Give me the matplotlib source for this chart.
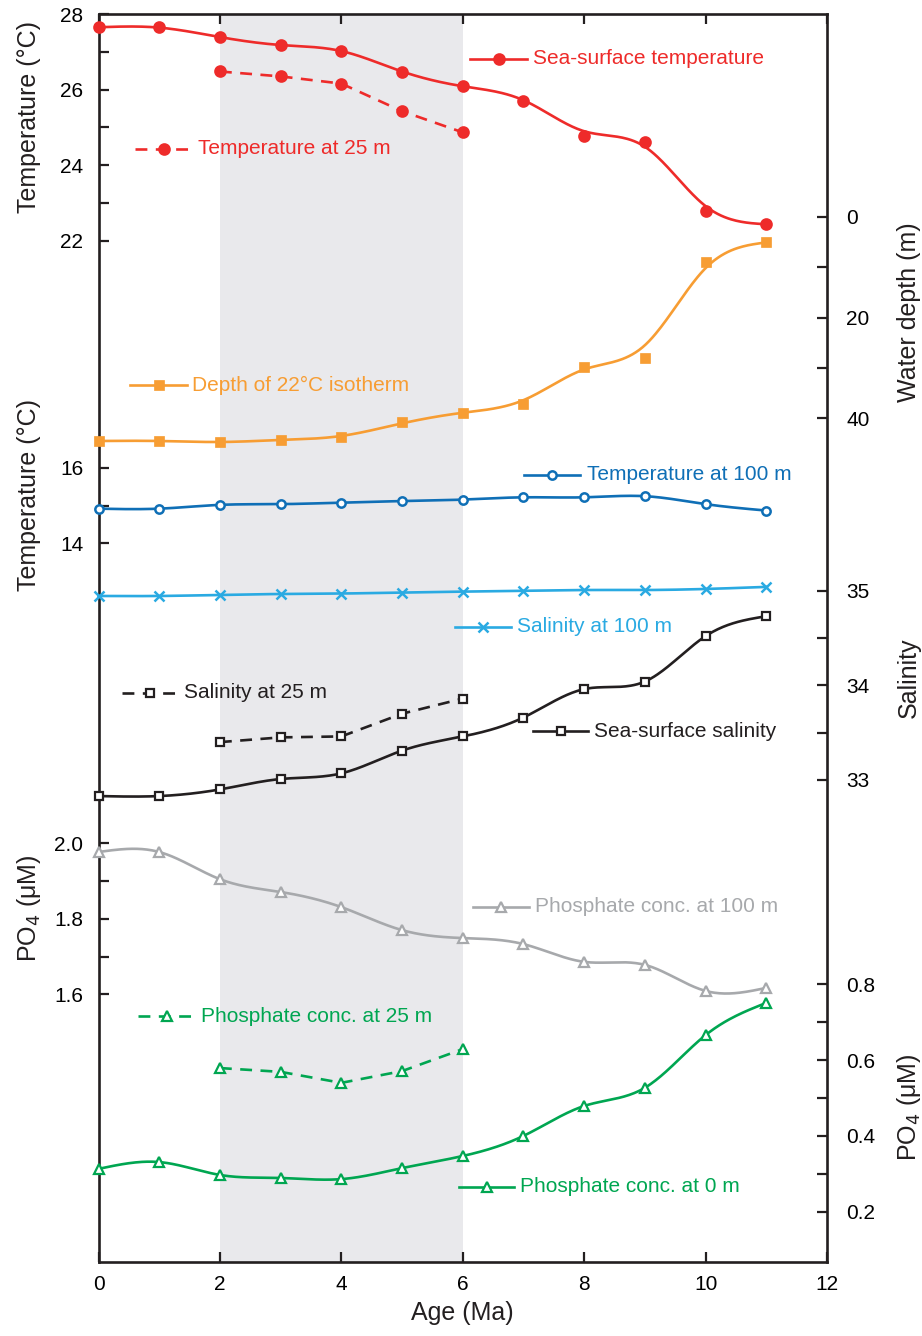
import numpy as np
import matplotlib
matplotlib.use("Agg")
import matplotlib.pyplot as plt
from matplotlib.lines import Line2D
from matplotlib.ticker import FixedLocator

plt.rcParams['font.family'] = ['Liberation Sans', 'DejaVu Sans']

# ---------------- data ----------------
ages = [0, 1, 2, 3, 4, 5, 6, 7, 8, 9, 10, 11]
ages_short = [2, 3, 4, 5, 6]

# Temperature (deg C)
sst = [27.65, 27.65, 27.39, 27.19, 27.03, 26.47, 26.09, 25.69, 24.78, 24.62, 22.78, 22.44]
sst_fit = [27.65, 27.64, 27.39, 27.18, 27.02, 26.48, 26.09, 25.72, 24.90, 24.49, 22.92, 22.44]
temp25 = [26.48, 26.35, 26.16, 25.43, 24.87]
temp100 = [14.92, 14.92, 15.02, 15.04, 15.08, 15.12, 15.16, 15.22, 15.22, 15.25, 15.04, 14.87]

# Water depth (m) of the 22 deg C isotherm
iso22 = [44.5, 44.5, 44.8, 44.3, 43.65, 40.8, 38.95, 37.1, 29.8, 28.0, 9.05, 5.1]
iso22_fit = [44.5, 44.5, 44.7, 44.3, 43.5, 41.0, 38.9, 36.4, 30.3, 25.5, 10.2, 5.1]

# Salinity
sal100 = [34.944, 34.944, 34.955, 34.965, 34.97, 34.98, 34.99, 34.997, 35.007, 35.007, 35.018, 35.04]
sss = [32.83, 32.83, 32.90, 33.01, 33.07, 33.31, 33.46, 33.66, 33.96, 34.04, 34.52, 34.73]
sal25 = [33.40, 33.45, 33.46, 33.70, 33.86]

# Phosphate (uM)
po4_100 = [1.977, 1.977, 1.905, 1.871, 1.831, 1.770, 1.749, 1.733, 1.686, 1.678, 1.609, 1.617]
po4_25 = [0.579, 0.569, 0.540, 0.571, 0.629]
po4_0 = [0.313, 0.331, 0.297, 0.289, 0.286, 0.315, 0.347, 0.400, 0.479, 0.527, 0.666, 0.751]

shade_span = [2, 6]
x_ticks = [0, 2, 4, 6, 8, 10, 12]

# ---------------- style ----------------
RED = '#ee2b2a'
ORANGE = '#f79d33'
BLUE = '#0f6fb6'
LBLUE = '#2aaae2'
BLACK = '#231f20'
GRAY = '#a7a9ac'
GREEN = '#00a651'
SHADE = '#e9e9ec'


def smooth(x, y, n=400):
    """Natural cubic spline through the given knots (for drawing a smooth line)."""
    x = np.asarray(x, float)
    y = np.asarray(y, float)
    m = len(x)
    h = np.diff(x)
    A = np.zeros((m, m))
    b = np.zeros(m)
    A[0, 0] = A[-1, -1] = 1
    for i in range(1, m - 1):
        A[i, i - 1] = h[i - 1]
        A[i, i] = 2 * (h[i - 1] + h[i])
        A[i, i + 1] = h[i]
        b[i] = 3 * ((y[i + 1] - y[i]) / h[i] - (y[i] - y[i - 1]) / h[i - 1])
    c = np.linalg.solve(A, b)
    bc = (y[1:] - y[:-1]) / h - h * (2 * c[:-1] + c[1:]) / 3
    d = (c[1:] - c[:-1]) / (3 * h)
    xs = np.linspace(x[0], x[-1], n)
    idx = np.clip(np.searchsorted(x, xs, side='right') - 1, 0, m - 2)
    dx = xs - x[idx]
    ys = y[idx] + bc[idx] * dx + c[idx] * dx ** 2 + d[idx] * dx ** 3
    return xs, ys


W, H = 922, 1336
fig = plt.figure(figsize=(W / 100, H / 100), dpi=100)
L, R, T, B = 98.5, 827, 14, 1262
ax = fig.add_axes([L / W, 1 - B / H, (R - L) / W, (B - T) / H])

ax_pl = ax.twinx()    # PO4 left
ax_dep = ax.twinx()   # water depth right
ax_sal = ax.twinx()   # salinity right
ax_pr = ax.twinx()    # PO4 right

TICKW = 1.6
TICKL = 7.5
TLS = 15

ax.set_xlim(0, 12)
ax.set_ylim(-5, 28)
ax_pl.set_ylim(0.8909, 4.1968)
ax_dep.set_ylim(207.4, -40.22)
ax_sal.set_ylim(27.907, 41.093)
ax_pr.set_ylim(0.0673, 3.3602)

ax.axvspan(shade_span[0], shade_span[1], color=SHADE, zorder=0, lw=0)

for s in ax.spines.values():
    s.set_linewidth(1.9)
    s.set_color(BLACK)
for a in (ax_pl, ax_dep, ax_sal, ax_pr):
    for s in a.spines.values():
        s.set_visible(False)

ax.xaxis.set_major_locator(FixedLocator(x_ticks))
ax.tick_params(axis='x', which='both', direction='in', top=True, bottom=True,
               length=TICKL, width=TICKW, color=BLACK, labelsize=TLS, pad=9)

ax.yaxis.set_major_locator(FixedLocator([14, 16, 22, 24, 26, 28]))
ax.yaxis.set_minor_locator(FixedLocator([15, 23, 25, 27]))
ax.tick_params(axis='y', which='both', direction='in', left=True, right=False,
               length=TICKL, width=TICKW, color=BLACK, labelsize=TLS, pad=11)

ax_pl.yaxis.set_ticks_position('left')
ax_pl.yaxis.set_major_locator(FixedLocator([1.6, 1.8, 2.0]))
ax_pl.yaxis.set_minor_locator(FixedLocator([1.7, 1.9]))
ax_pl.set_yticklabels(['1.6', '1.8', '2.0'])
ax_pl.tick_params(axis='y', which='both', direction='in', left=True, right=False,
                  labelleft=True, labelright=False,
                  length=TICKL, width=TICKW, color=BLACK, labelsize=TLS, pad=11)

ax_dep.yaxis.set_major_locator(FixedLocator([0, 20, 40]))
ax_dep.yaxis.set_minor_locator(FixedLocator([10, 30]))
ax_dep.set_yticklabels(['0', '20', '40'])
ax_sal.yaxis.set_major_locator(FixedLocator([33, 34, 35]))
ax_sal.yaxis.set_minor_locator(FixedLocator([33.5, 34.5]))
ax_sal.set_yticklabels(['33', '34', '35'])
ax_pr.yaxis.set_major_locator(FixedLocator([0.2, 0.4, 0.6, 0.8]))
ax_pr.yaxis.set_minor_locator(FixedLocator([0.3, 0.5, 0.7]))
ax_pr.set_yticklabels(['0.2', '0.4', '0.6', '0.8'])
for a in (ax_dep, ax_sal, ax_pr):
    a.tick_params(axis='y', which='both', direction='in', right=True, left=False,
                  length=TICKL, width=TICKW, color=BLACK, labelsize=TLS, pad=14)

LW = 1.9


def solid(a, x, ypts, yfit, color, marker, ms, mfc, mew=1.6):
    xs, ys = smooth(x, yfit)
    a.plot(xs, ys, color=color, lw=LW, zorder=3, clip_on=False)
    a.plot(x, ypts, ls='none', marker=marker, ms=ms, mfc=mfc, mec=color,
           mew=mew, zorder=4, clip_on=False)


def dashed(a, x, y, color, marker, ms, mfc, mew=1.6):
    a.plot(x, y, color=color, lw=LW, ls=(0, (4.5, 3.2)), marker=marker, ms=ms,
           mfc=mfc, mec=color, mew=mew, zorder=3, clip_on=False)


# temperature
solid(ax, ages, sst, sst_fit, RED, 'o', 7.5, RED)
dashed(ax, ages_short, temp25, RED, 'o', 7.5, RED)
solid(ax, ages, temp100, temp100, BLUE, 'o', 6, 'white', 1.8)
# depth
solid(ax_dep, ages, iso22, iso22_fit, ORANGE, 's', 7.5, ORANGE, 0.5)
# salinity
solid(ax_sal, ages, sal100, sal100, LBLUE, 'x', 7, LBLUE, 1.8)
solid(ax_sal, ages, sss, sss, BLACK, 's', 6, 'white', 1.6)
dashed(ax_sal, ages_short, sal25, BLACK, 's', 6, 'white', 1.6)
# phosphate
solid(ax_pl, ages, po4_100, po4_100, GRAY, '^', 6.5, 'white', 1.6)
dashed(ax_pr, ages_short, po4_25, GREEN, '^', 6.5, 'white', 1.6)
solid(ax_pr, ages, po4_0, po4_0, GREEN, '^', 6.5, 'white', 1.6)


# ---------------- in-plot labels with line samples ----------------
def key(x0, x1, y, color, marker, ms, mfc, text, tx, dashed_line=False, mew=1.6):
    fy = 1 - y / H
    ls = (0, (4.5, 3.2)) if dashed_line else '-'
    fig.add_artist(Line2D([x0 / W, x1 / W], [fy, fy], transform=fig.transFigure,
                          color=color, lw=LW, ls=ls))
    xm = (x0 + x1) / 2
    fig.add_artist(Line2D([xm / W], [fy], transform=fig.transFigure, ls='none',
                          marker=marker, ms=ms, mfc=mfc, mec=color, mew=mew))
    fig.text(tx / W, fy, text, color=color, fontsize=15, ha='left', va='center')


key(470, 527, 59, RED, 'o', 7.5, RED, 'Sea-surface temperature', 533)
key(135, 192, 149, RED, 'o', 7.5, RED, 'Temperature at 25 m', 198, dashed_line=True)
key(130, 187, 385, ORANGE, 's', 7.5, ORANGE, 'Depth of 22°C isotherm', 192, mew=0.5)
key(524, 580, 475, BLUE, 'o', 6, 'white', 'Temperature at 100 m', 587, mew=1.8)
key(455, 511, 627, LBLUE, 'x', 7, LBLUE, 'Salinity at 100 m', 517, mew=1.8)
key(122, 178, 693, BLACK, 's', 6, 'white', 'Salinity at 25 m', 184, dashed_line=True)
key(533, 588, 731, BLACK, 's', 6, 'white', 'Sea-surface salinity', 594)
key(473, 529, 907, GRAY, '^', 6.5, 'white', 'Phosphate conc. at 100 m', 535)
key(138, 195, 1016, GREEN, '^', 6.5, 'white', 'Phosphate conc. at 25 m', 201, dashed_line=True)
key(459, 514, 1187, GREEN, '^', 6.5, 'white', 'Phosphate conc. at 0 m', 520)

# ---------------- axis titles ----------------
LS = 18


def ylab(x, y, s):
    fig.text(x / W, 1 - y / H, s, rotation=90, fontsize=LS, ha='center', va='center',
             color=BLACK)


ylab(29, 117, 'Temperature (°C)')
ylab(29, 495, 'Temperature (°C)')
ylab(29, 908, 'PO$_4$ (μM)')
ylab(909, 312, 'Water depth (m)')
ylab(909, 678, 'Salinity')
ylab(909, 1107, 'PO$_4$ (μM)')
fig.text(462 / W, 1 - 1313 / H, 'Age (Ma)', fontsize=LS, ha='center', va='center',
         color=BLACK)

fig.savefig('out.png', dpi=100)
